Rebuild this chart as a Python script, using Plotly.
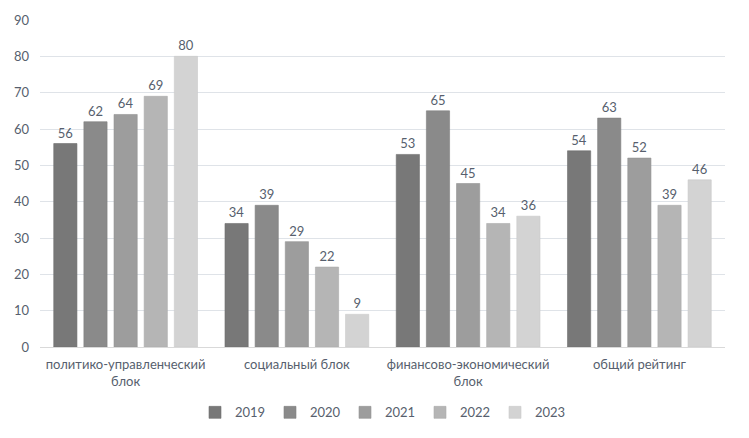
import plotly.graph_objects as go

categories = ["политико-управленческий<br>блок", "социальный блок", "финансово-экономический<br>блок", "общий рейтинг"]
years = ["2019", "2020", "2021", "2022", "2023"]
values = {
    "2019": [56, 34, 53, 54],
    "2020": [62, 39, 65, 63],
    "2021": [64, 29, 45, 52],
    "2022": [69, 22, 34, 39],
    "2023": [80, 9, 36, 46],
}
colors = ["#787878", "#8a8a8a", "#9d9d9d", "#b5b5b5", "#d3d3d3"]
line_colors = ["#6e6e6e", "#808080", "#939393", "#ababab", "#c9c9c9"]

FONT = "Lato, 'Open Sans', sans-serif"
TXT = "#575f6e"

fig = go.Figure()
for y, c, lc in zip(years, colors, line_colors):
    fig.add_trace(go.Bar(
        name=y, x=categories, y=values[y],
        marker=dict(color=c, line=dict(color=lc, width=0.6)),
        text=values[y], textposition="outside",
        textfont=dict(color=TXT, size=13, family=FONT),
        cliponaxis=False,
    ))

fig.update_layout(
    width=749, height=438,
    margin=dict(l=32, r=32, t=12, b=99, autoexpand=False),
    paper_bgcolor="white", plot_bgcolor="white",
    barmode="group", bargap=0.12, bargroupgap=0.23,
    font=dict(family=FONT, color=TXT, size=13),
    showlegend=True,
    legend=dict(orientation="h", x=0.5, xanchor="center", y=-0.2, yanchor="middle",
                font=dict(size=13, color=TXT), itemwidth=30, traceorder="normal",
                entrywidth=30, entrywidthmode="pixels"),
    xaxis=dict(showgrid=False, showline=True, linecolor="#d9d9d9", linewidth=1,
               ticks="", tickfont=dict(size=13, color=TXT), automargin=False,
               ticklabelstandoff=5),
    yaxis=dict(range=[0, 90], dtick=10, showgrid=True, gridcolor="#dfe3e8", gridwidth=1,
               zeroline=False, showline=False, ticks="", tickfont=dict(size=13, color=TXT),
               ticklabelstandoff=10, automargin=False),
)

fig.write_html("out.html")
